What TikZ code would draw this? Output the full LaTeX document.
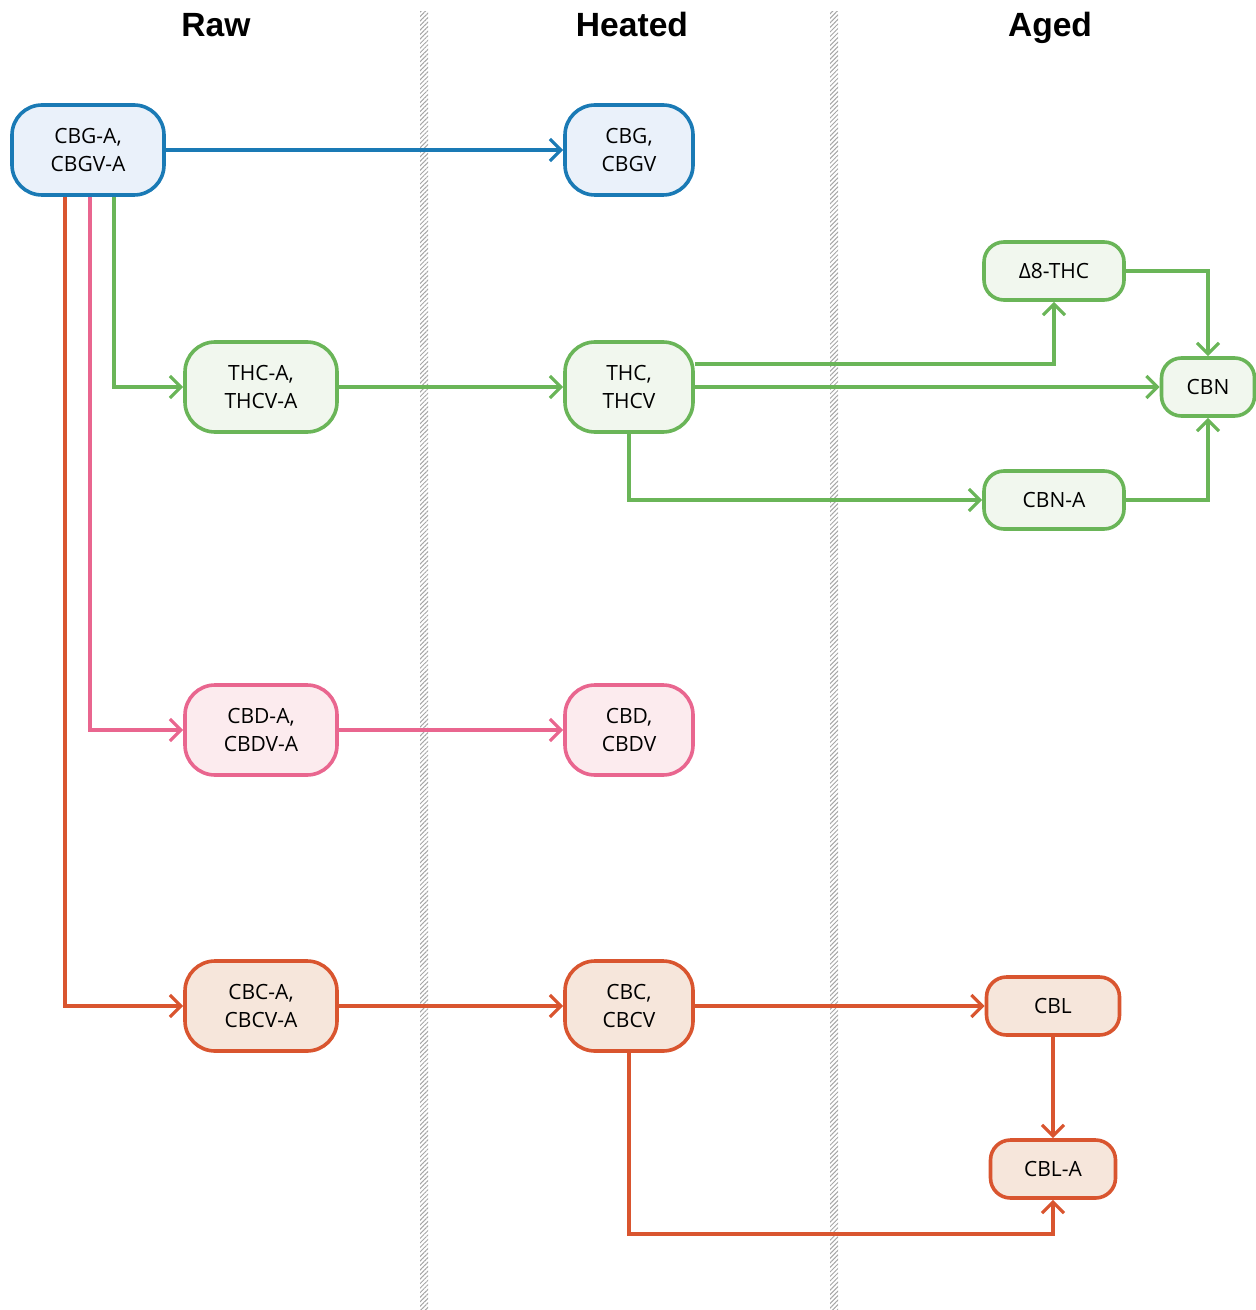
\documentclass[tikz,border=0pt]{standalone}
\usepackage{fontspec}
\setmainfont{Open Sans}
\newfontfamily\titlefont{Liberation Sans}
\usetikzlibrary{arrows.meta, patterns.meta, positioning}

\definecolor{cblue}{HTML}{1A7AB5}
\definecolor{cbluefill}{HTML}{EAF1FA}
\definecolor{cgreen}{HTML}{6AB558}
\definecolor{cgreenfill}{HTML}{F1F7EE}
\definecolor{cpink}{HTML}{E9668F}
\definecolor{cpinkfill}{HTML}{FCEBEE}
\definecolor{cred}{HTML}{D9552F}
\definecolor{credfill}{HTML}{F6E6DB}

\tikzset{
  box/.style={rounded corners=15pt, line width=1.8pt, align=center, inner sep=0pt,
              minimum width=76pt, minimum height=45pt},
  wide/.style={minimum width=64pt},
  flat/.style={rounded corners=10pt, minimum height=29pt},
  bluebox/.style={box, draw=cblue, fill=cbluefill},
  grnbox/.style={box, draw=cgreen, fill=cgreenfill},
  pinkbox/.style={box, draw=cpink, fill=cpinkfill},
  redbox/.style={box, draw=cred, fill=credfill},
  link/.style={->, line width=1.6pt},
  bluelink/.style={link, draw=cblue},
  grnlink/.style={link, draw=cgreen},
  pinklink/.style={link, draw=cpink},
  redlink/.style={link, draw=cred},
  title/.style={anchor=base, font=\titlefont\bfseries\fontsize{16.8}{20}\selectfont},
  divider/.style={pattern={Lines[angle=45, distance=1.6pt, line width=0.5pt]}, pattern color=gray!70}
}

\begin{document}
\begin{tikzpicture}[x=0.5pt, y=-0.5pt, >={Straight Barb[length=5.5pt, width=11pt]},
    font=\fontsize{10.5}{14}\selectfont]
    \useasboundingbox (0,0) rectangle (1256,1310);

    \coordinate (t01) at ( 216,  37);
    \coordinate (t02) at ( 632,  37);
    \coordinate (t03) at (1050,  37);

    \coordinate (a01) at (  88, 150);
    \coordinate (a02) at ( 261, 387);
    \coordinate (a03) at ( 261, 730);
    \coordinate (a04) at ( 261,1006);

    \coordinate (b01) at ( 629, 150);
    \coordinate (b02) at ( 629, 387);
    \coordinate (b03) at ( 629, 730);
    \coordinate (b04) at ( 629,1006);

    \coordinate (c01) at (1054, 271);
    \coordinate (c02) at (1208, 387);
    \coordinate (c03) at (1054, 500);
    \coordinate (c04) at (1053,1006);
    \coordinate (c05) at (1053,1169);
    \coordinate (c06) at (1053,1234);

    \fill[divider] (420,12) rectangle (428,1310);
    \fill[divider] (830,12) rectangle (838,1310);

    \node[title] (raw)    at (t01) {Raw};
    \node[title] (heated) at (t02) {Heated};
    \node[title] (aged)   at (t03) {Aged};

    \node[bluebox] (cbga) at (a01) {CBG-A,\\CBGV-A};
    \node[grnbox]  (thca) at (a02) {THC-A,\\THCV-A};
    \node[pinkbox] (cbda) at (a03) {CBD-A,\\CBDV-A};
    \node[redbox]  (cbca) at (a04) {CBC-A,\\CBCV-A};

    \node[bluebox, wide] (cbg) at (b01) {CBG,\\CBGV};
    \node[grnbox, wide]  (thc) at (b02) {THC,\\THCV};
    \node[pinkbox, wide] (cbd) at (b03) {CBD,\\CBDV};
    \node[redbox, wide]  (cbc) at (b04) {CBC,\\CBCV};

    \node[grnbox, flat, minimum width=70pt]   (dthc) at (c01) {Δ8-THC};
    \node[grnbox, flat, minimum width=46.5pt] (cbn)  at (c02) {CBN};
    \node[grnbox, flat, minimum width=70pt]   (cbna) at (c03) {CBN-A};
    \node[redbox, flat, minimum width=66.5pt] (cbl)  at (c04) {CBL};
    \node[redbox, flat, minimum width=62.5pt] (cbla) at (c05) {CBL-A};

    \draw[bluelink] (cbga) -- (cbg);
    \draw[grnlink]  ([xshift=13pt]cbga.south) |- (thca.west);
    \draw[pinklink] ([xshift=1pt]cbga.south) |- (cbda.west);
    \draw[redlink]  ([xshift=-11.5pt]cbga.south) |- (cbca.west);

    \draw[grnlink]  (thca) -- (thc);
    \draw[pinklink] (cbda) -- (cbd);
    \draw[redlink]  (cbca) -- (cbc);

    \draw[grnlink] ([yshift=11.5pt]thc.east) -| (dthc.south);
    \draw[grnlink] (thc) -- (cbn);
    \draw[grnlink] (thc.south) |- (cbna.west);
    \draw[grnlink] (dthc.east) -| (cbn.north);
    \draw[grnlink] (cbna.east) -| (cbn.south);

    \draw[redlink] (cbc) -- (cbl);
    \draw[redlink] (cbl) -- (cbla);
    \draw[redlink] (cbc.south) |- (c06) -- (cbla.south);
  \end{tikzpicture}
\end{document}
